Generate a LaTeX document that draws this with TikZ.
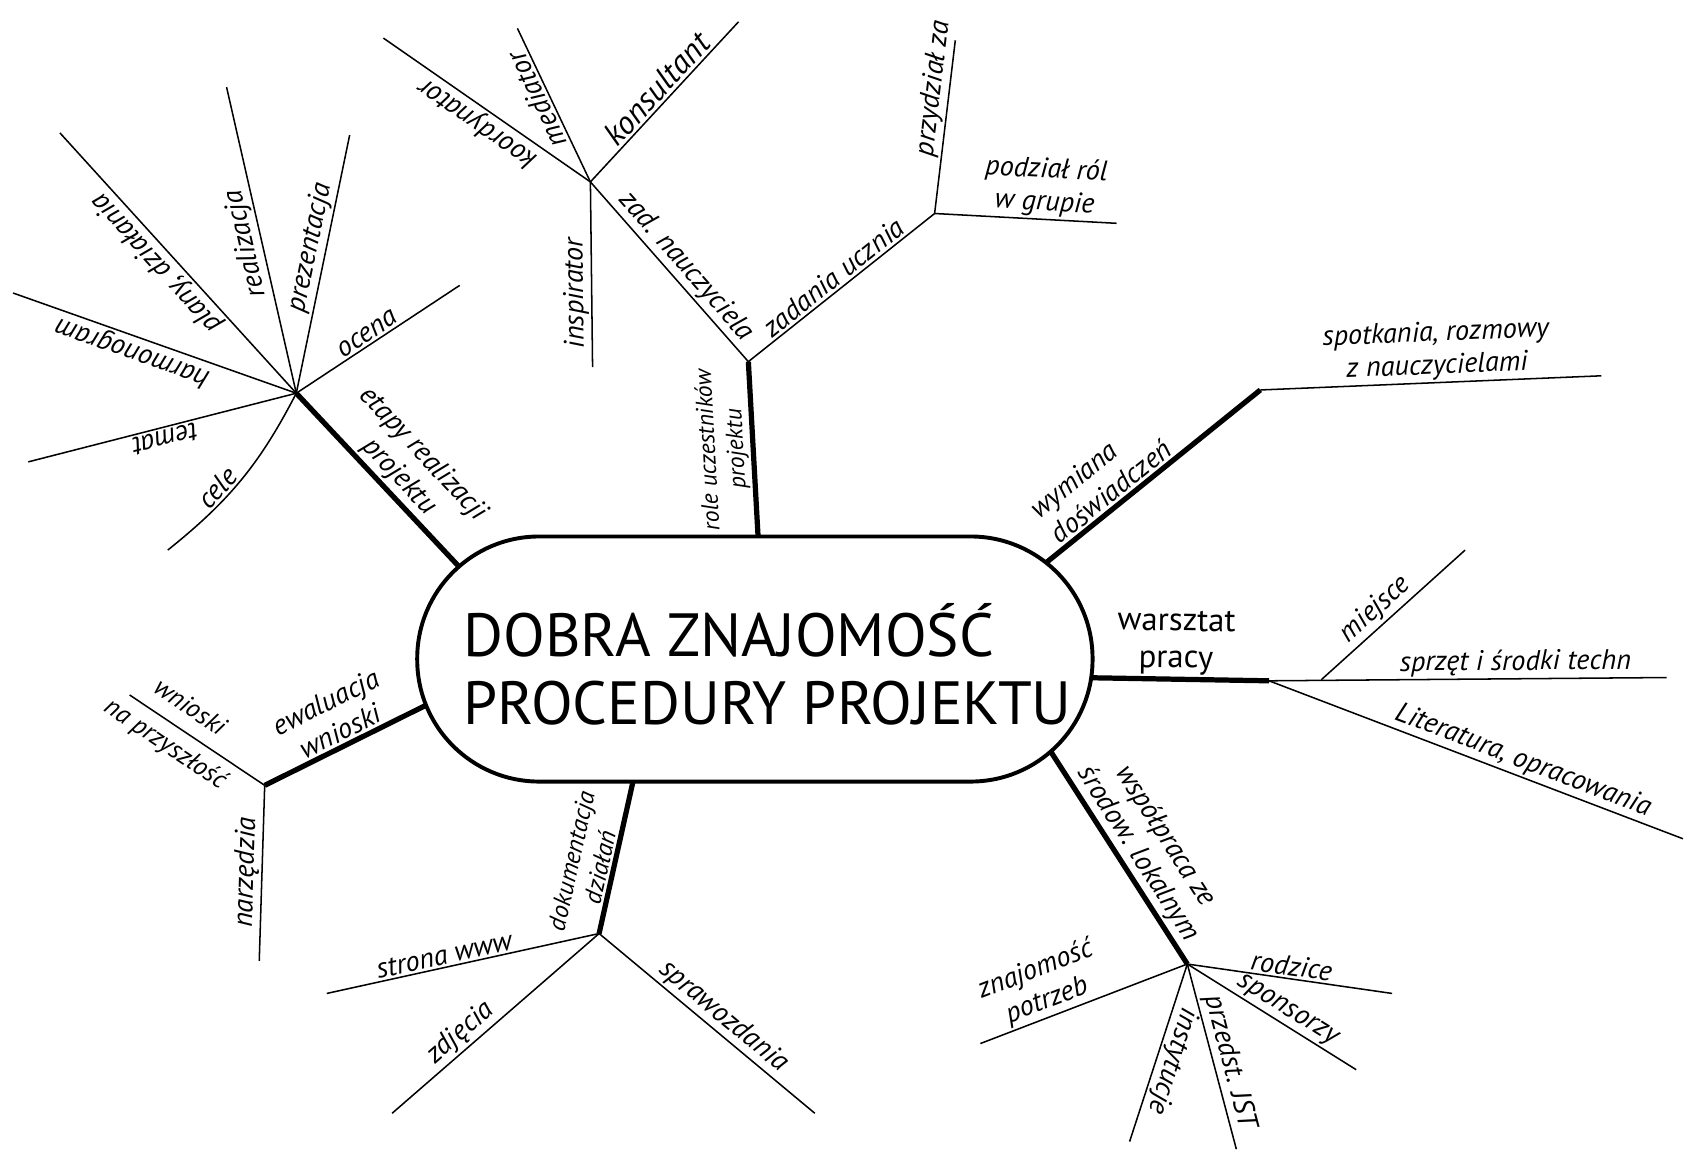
\documentclass[tikz,border=0pt]{standalone}
\usepackage{fontspec}
\setmainfont{PT Sans}
\tikzset{
	twig/.style={line width=0.7pt},
	bough/.style={line width=2.4pt},
	note/.style={font=\fontsize{13}{15}\selectfont\itshape, inner sep=1pt, sloped, allow upside down},
	core/.style={draw, line width=1.8pt, fill=white, rounded corners=56pt, minimum width=310pt, minimum height=112.5pt},
	headline/.style={font=\fontsize{28}{30}\selectfont, inner sep=0pt, anchor=base west}
}
\begin{document}
\begin{tikzpicture}[x=0.5pt,y=-0.5pt]
	\useasboundingbox (0,0) rectangle (1568,1065);
	\foreach \n/\x/\y in {hA/272/361, hB/687/332, hU/858/196, hN/542/167, hW/1157/358, hS/1165/625, hL/1090/885, hD/550/857, hE/243/721,
			cA/440/540, cB/697/512, cW/935/537, cS/990/622, cL/955/675, cD/585/700, cE/400/643,
			eOcena/422/262, ePrez/321/124, eReal/208/80, ePlan/55/122, eHarm/12/269, eTemat/26/424, eCele/154/505,
			eGrupa/1025/205, ePrzyd/877/37, eKons/678/20, eMedi/475/26, eKoord/352/35, eInsp/544/337,
			eSpot/1470/345, sMiej/1213/624, eMiej/1345/505, eSprz/1530/622, eLit/1545/770,
			eRodz/1278/912, eSpon/1245/982, eJst/1135/1055, eInst/1037/1048, eZnaj/900/958,
			eStrona/300/912, eZdj/360/1022, eSpraw/748/1022, eWn/119/638, eNarz/238/882}
		\coordinate (\n) at (\x,\y);

	\draw[bough] (hA) -- node[note, above, align=center, pos=.49] (etapy) {etapy realizacji\\projektu} (cA);
	\draw[twig] (hA) -- node[note, above, pos=.47] (ocena) {ocena} (eOcena);
	\draw[twig] (hA) -- node[note, above, pos=.55] (prezentacja) {prezentacja} (ePrez);
	\draw[twig] (hA) -- node[note, above, pos=.5] (realizacja) {realizacja} (eReal);
	\draw[twig] (hA) -- node[note, above, pos=.54] (plany) {plany, działania} (ePlan);
	\draw[twig] (hA) -- node[note, above, pos=.56] (harmonogram) {harmonogram} (eHarm);
	\draw[twig] (hA) -- node[note, above, pos=.5] (temat) {temat} (eTemat);
	\draw[twig] (eCele) to[bend right=12] node[note, above, pos=.38] (cele) {cele} (hA);

	\draw[bough] (cB) -- node[note, above, align=center, pos=.56, font=\fontsize{11}{13}\selectfont\itshape] (role) {role uczestników\\projektu} (hB);
	\draw[twig] (hB) -- node[note, above, pos=.5] (zadania) {zadania ucznia} (hU);
	\draw[twig] (hU) -- node[note, above, align=center, pos=.6] (podzial) {podział ról\\w grupie} (eGrupa);
	\draw[twig] (hU) -- node[note, above, pos=.71] (przydzial) {przydział za} (ePrzyd);
	\draw[twig] (hN) -- node[note, above, pos=.53] (nauczyciel) {zad. nauczyciela} (hB);
	\draw[twig] (hN) -- node[note, above, pos=.52, font=\fontsize{15}{17}\selectfont\itshape] (konsultant) {konsultant} (eKons);
	\draw[twig] (hN) -- node[note, above, pos=.57] (mediator) {mediator} (eMedi);
	\draw[twig] (hN) -- node[note, above, pos=.5] (koordynator) {koordynator} (eKoord);
	\draw[twig] (eInsp) -- node[note, above, pos=.4] (inspirator) {inspirator} (hN);

	\draw[bough] (cW) -- node[note, above, align=left, pos=.42] (wymiana) {wymiana\\doświadczeń} (hW);
	\draw[twig] (hW) -- node[note, above, align=center, pos=.52] (spotkania) {spotkania, rozmowy\\z nauczycielami} (eSpot);

	\draw[bough] (cS) -- node[note, above, align=center, pos=.51, font=\fontsize{15}{17}\selectfont] (warsztat) {warsztat\\pracy} (hS);
	\draw[twig] (hS) -- node[note, above, pos=.62] (sprzet) {sprzęt i środki techn} (eSprz);
	\draw[twig] (sMiej) -- node[note, above, pos=.45] (miejsce) {miejsce} (eMiej);
	\draw[twig] (hS) -- node[note, above, pos=.6] (literatura) {Literatura, opracowania} (eLit);

	\draw[bough] (cL) -- node[note, above, align=center, pos=.56] (wspolpraca) {współpraca ze\\środow. lokalnym} (hL);
	\draw[twig] (hL) -- node[note, above, pos=.5] (rodzice) {rodzice} (eRodz);
	\draw[twig] (hL) -- node[note, above, pos=.55] (sponsorzy) {sponsorzy} (eSpon);
	\draw[twig] (hL) -- node[note, above, pos=.55] (jst) {przedst. JST} (eJst);
	\draw[twig] (hL) -- node[note, above, pos=.52] (instytucje) {instytucje} (eInst);
	\draw[twig] (eZnaj) -- node[note, above, align=center, pos=.35] (potrzeby) {znajomość\\potrzeb} (hL);

	\draw[bough] (hD) -- node[note, above, align=center, pos=.37, font=\fontsize{11.5}{13.5}\selectfont\itshape] (dokumentacja) {dokumentacja\\działań} (cD);
	\draw[twig] (eStrona) -- node[note, above, pos=.44] (strona) {strona www} (hD);
	\draw[twig] (eZdj) -- node[note, above, pos=.38] (zdjecia) {zdjęcia} (hD);
	\draw[twig] (hD) -- node[note, above, pos=.53] (sprawozdania) {sprawozdania} (eSpraw);

	\draw[bough] (hE) -- node[note, above, align=center, pos=.48] (ewaluacja) {ewaluacja\\wnioski} (cE);
	\draw[twig] (eWn) -- node[note, align=center, pos=.35, font=\fontsize{12}{20}\selectfont\itshape] (wnioski) {wnioski\\na przyszłość} (hE);
	\draw[twig] (eNarz) -- node[note, above, pos=.5] (narzedzia) {narzędzia} (hE);

	\node[core] (core) at (693,605) {};
	\node[headline] (titleA) at (425,603) {DOBRA ZNAJOMOŚĆ};
	\node[headline] (titleB) at (425,665) {PROCEDURY PROJEKTU};
\end{tikzpicture}
\end{document}
